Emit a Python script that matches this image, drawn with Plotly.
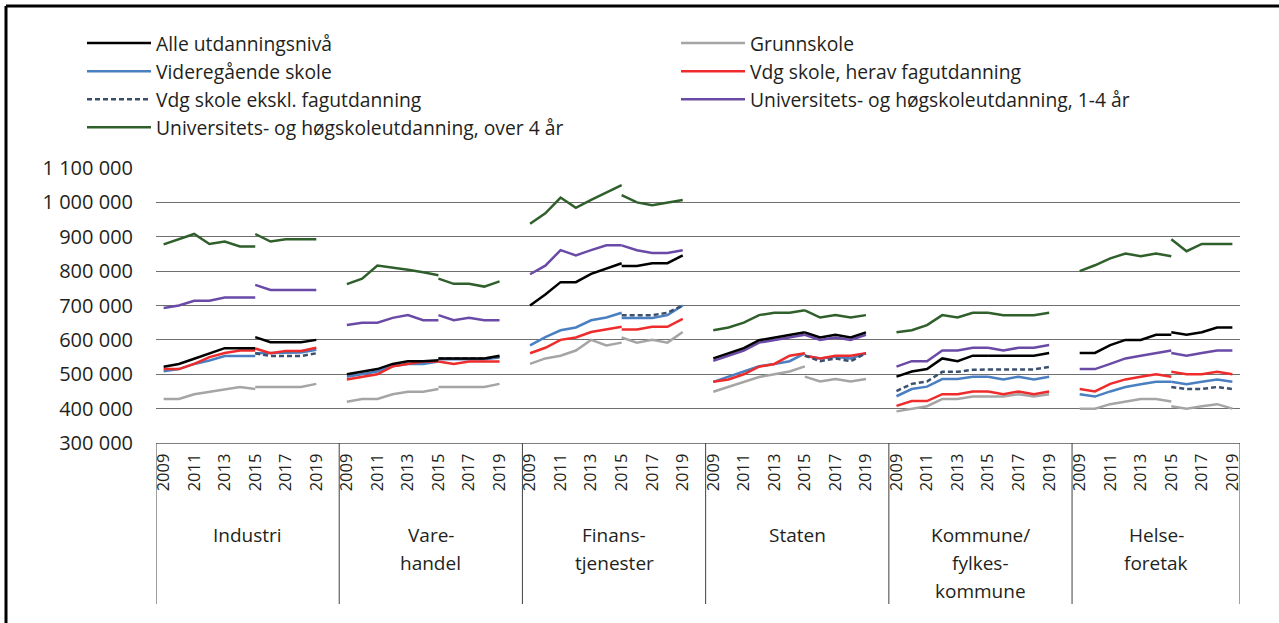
import plotly.graph_objects as go

groups = ["Industri", "Varehandel", "Finanstjenester", "Staten", "Kommune/fylkeskommune", "Helseforetak"]
group_label_lines = [["Industri"], ["Vare-", "handel"], ["Finans-", "tjenester"], ["Staten"],
                     ["Kommune/", "fylkes-", "kommune"], ["Helse-", "foretak"]]
years_a = [2009, 2010, 2011, 2012, 2013, 2014, 2015]
years_b = [2015, 2016, 2017, 2018, 2019]
tick_years = [2009, 2011, 2013, 2015, 2017, 2019]

# Series values, per group: segment a = 2009-2015, segment b = 2015-2019
alle_a = [[522000, 530000, 545000, 561000, 576000, 576000, 576000],
          [500000, 508000, 515000, 530000, 538000, 538000, 541000],
          [700000, 732000, 768000, 768000, 792000, 808000, 823000],
          [546000, 561000, 576000, 599000, 607000, 615000, 622000],
          [493000, 508000, 515000, 546000, 538000, 554000, 554000],
          [562000, 562000, 585000, 600000, 600000, 615000, 615000]]
alle_b = [[608000, 593000, 593000, 593000, 600000],
          [546000, 546000, 546000, 546000, 554000],
          [815000, 815000, 823000, 823000, 846000],
          [622000, 607000, 615000, 607000, 622000],
          [554000, 554000, 554000, 554000, 562000],
          [622000, 615000, 622000, 636000, 636000]]

grunn_a = [[428000, 428000, 442000, 449000, 457000, 463000, 457000],
           [420000, 428000, 428000, 442000, 449000, 449000, 457000],
           [530000, 546000, 554000, 569000, 600000, 584000, 592000],
           [449000, 463000, 477000, 492000, 500000, 508000, 523000],
           [392000, 400000, 407000, 428000, 428000, 435000, 435000],
           [400000, 400000, 413000, 421000, 428000, 428000, 421000]]
grunn_b = [[463000, 463000, 463000, 463000, 472000],
           [463000, 463000, 463000, 463000, 472000],
           [607000, 592000, 600000, 592000, 623000],
           [493000, 479000, 486000, 479000, 486000],
           [435000, 435000, 442000, 435000, 442000],
           [407000, 400000, 407000, 413000, 400000]]

vgs_a = [[509000, 515000, 530000, 540000, 553000, 553000, 553000],
         [493000, 500000, 508000, 523000, 530000, 530000, 537000],
         [584000, 608000, 628000, 636000, 657000, 665000, 679000],
         [478000, 493000, 508000, 523000, 530000, 538000, 561000],
         [436000, 457000, 464000, 486000, 486000, 493000, 493000],
         [442000, 435000, 450000, 463000, 471000, 478000, 478000]]
vgs_b = [[561000, 561000, 561000, 563000, 571000],
         [544000, 544000, 544000, 544000, 549000],
         [664000, 664000, 664000, 672000, 700000],
         [554000, 546000, 551000, 546000, 561000],
         [493000, 485000, 493000, 485000, 493000],
         [478000, 471000, 478000, 485000, 478000]]

fag_a = [[515000, 515000, 530000, 550000, 562000, 569000, 569000],
         [485000, 492000, 500000, 523000, 530000, 537000, 537000],
         [561000, 577000, 600000, 607000, 623000, 630000, 638000],
         [478000, 485000, 500000, 522000, 530000, 554000, 561000],
         [408000, 422000, 422000, 442000, 442000, 450000, 450000],
         [457000, 450000, 472000, 485000, 493000, 500000, 493000]]
fag_b = [[575000, 561000, 568000, 568000, 577000],
         [537000, 530000, 537000, 537000, 537000],
         [630000, 630000, 638000, 638000, 661000],
         [554000, 546000, 554000, 554000, 561000],
         [450000, 442000, 450000, 442000, 450000],
         [507000, 500000, 500000, 507000, 500000]]

# Vdg skole ekskl. fagutdanning: 2009-2015 only published for Kommune/fylkeskommune
ekskl_a = [None, None, None, None,
           [451000, 472000, 479000, 507000, 507000, 513000, 514000],
           None]
ekskl_b = [[561000, 553000, 553000, 553000, 561000],
           [546000, 546000, 546000, 546000, 551000],
           [672000, 672000, 672000, 679000, 700000],
           [554000, 538000, 546000, 538000, 561000],
           [514000, 514000, 514000, 514000, 521000],
           [463000, 457000, 457000, 463000, 457000]]

uni14_a = [[693000, 700000, 714000, 714000, 723000, 723000, 723000],
           [643000, 650000, 650000, 664000, 672000, 657000, 657000],
           [791000, 816000, 861000, 846000, 861000, 875000, 875000],
           [539000, 554000, 569000, 592000, 600000, 607000, 615000],
           [522000, 538000, 538000, 569000, 569000, 577000, 577000],
           [515000, 515000, 530000, 546000, 554000, 562000, 569000]]
uni14_b = [[760000, 745000, 745000, 745000, 745000],
           [672000, 657000, 664000, 657000, 657000],
           [875000, 861000, 853000, 853000, 861000],
           [615000, 600000, 607000, 600000, 615000],
           [577000, 569000, 577000, 577000, 585000],
           [562000, 554000, 562000, 569000, 569000]]

uni4_a = [[878000, 893000, 908000, 879000, 886000, 872000, 872000],
          [762000, 778000, 816000, 811000, 804000, 797000, 788000],
          [938000, 968000, 1014000, 984000, 1007000, 1028000, 1050000],
          [628000, 636000, 650000, 672000, 679000, 679000, 686000],
          [622000, 628000, 643000, 672000, 665000, 679000, 679000],
          [800000, 817000, 837000, 851000, 843000, 851000, 843000]]
uni4_b = [[908000, 886000, 893000, 893000, 893000],
          [778000, 763000, 763000, 755000, 770000],
          [1021000, 1000000, 992000, 1000000, 1007000],
          [686000, 665000, 672000, 665000, 672000],
          [679000, 672000, 672000, 672000, 679000],
          [893000, 858000, 879000, 879000, 879000]]

# name, segment a, segment b, colour, dash, legend, legend rank
series = [
    ("Alle utdanningsnivå", alle_a, alle_b, "#000000", "solid", "legend", 1),
    ("Videregående skole", vgs_a, vgs_b, "#4a7fc1", "solid", "legend", 2),
    ("Vdg skole ekskl. fagutdanning", ekskl_a, ekskl_b, "#3b4f6e", "5px,3px", "legend", 3),
    ("Universitets- og høgskoleutdanning, over 4 år", uni4_a, uni4_b, "#2f5f2b", "solid", "legend", 4),
    ("Grunnskole", grunn_a, grunn_b, "#a5a5a5", "solid", "legend2", 1),
    ("Vdg skole, herav fagutdanning", fag_a, fag_b, "#ee2c2c", "solid", "legend2", 2),
    ("Universitets- og høgskoleutdanning, 1-4 år", uni14_a, uni14_b, "#6a4aa6", "solid", "legend2", 3),
]

SLOTS = 12  # 11 years + one empty slot between groups


def slot(g, year):
    return g * SLOTS + (year - 2009) + 0.5


draw_order = [3, 6, 4, 1, 5, 2, 0]
fig = go.Figure()
for idx in draw_order:
    name, seg_a, seg_b, color, dash, leg, rank = series[idx]
    xs, ys = [], []
    for g in range(len(groups)):
        for yrs, seg in ((years_a, seg_a[g]), (years_b, seg_b[g])):
            if seg is None:
                continue
            xs += [slot(g, y) for y in yrs] + [None]
            ys += list(seg) + [None]
    fig.add_trace(go.Scatter(x=xs, y=ys, mode="lines", name=name, legend=leg, legendrank=rank,
                             legendgroup=name,
                             line=dict(color=color, width=2.5, dash=dash),
                             connectgaps=False, hoverinfo="skip"))

tickvals, ticktext = [], []
for g in range(len(groups)):
    for y in tick_years:
        tickvals.append(slot(g, y))
        ticktext.append(str(y))

total = SLOTS * len(groups) - 1
bounds = [g * SLOTS for g in range(len(groups))] + [total]
FONT = "Open Sans"
TXT = "#231f20"
PL, PT, PW, PH = 156, 168, 1084, 275  # plot area in px


def px_x(x):
    return (x - PL) / PW


def px_y(y):
    return (PT + PH - y) / PH


shapes = []
for b in bounds:
    shapes.append(dict(type="line", xref="x", yref="paper", x0=b, x1=b, y0=0, y1=px_y(604),
                       line=dict(color="#404040", width=1)))
# outer frame (top and left)
shapes.append(dict(type="line", xref="paper", yref="paper", x0=px_x(6), x1=px_x(1290), y0=px_y(6), y1=px_y(6),
                   line=dict(color="#000000", width=3)))
shapes.append(dict(type="line", xref="paper", yref="paper", x0=px_x(6), x1=px_x(6), y0=px_y(6), y1=px_y(640),
                   line=dict(color="#000000", width=3)))

annotations = []
for g, lines in enumerate(group_label_lines):
    for i, t in enumerate(lines):
        ypx = 535 + 28 * i
        annotations.append(dict(text=t, x=(bounds[g] + bounds[g + 1]) / 2, xref="x", y=px_y(ypx), yref="paper",
                                showarrow=False, xanchor="center", yanchor="middle",
                                font=dict(family=FONT, size=19, color=TXT)))

legend_common = dict(orientation="v", xanchor="left", yanchor="top", itemwidth=64,
                     font=dict(family=FONT, size=19.3, color=TXT), tracegroupgap=0,
                     bgcolor="rgba(0,0,0,0)", traceorder="grouped")

fig.update_layout(
    width=1279, height=623,
    margin=dict(l=PL, r=1279 - PL - PW, t=PT, b=623 - PT - PH, autoexpand=False),
    paper_bgcolor="white", plot_bgcolor="white",
    separators=", ",
    showlegend=True,
    legend=dict(x=px_x(82), y=px_y(24), **legend_common),
    legend2=dict(x=px_x(676), y=px_y(24), **legend_common),
    xaxis=dict(range=[0, total], tickvals=tickvals, ticktext=ticktext, tickangle=-90,
               showgrid=False, zeroline=False, showline=True, linecolor="#7f7f7f", linewidth=1,
               ticks="", ticklabelstandoff=3, tickfont=dict(family=FONT, size=16.5, color=TXT)),
    yaxis=dict(range=[300000, 1100000], dtick=100000, tickformat=",d",
               showgrid=True, gridcolor="#6f6f6f", gridwidth=1, zeroline=False,
               ticks="", ticklabelstandoff=22,
               tickfont=dict(family=FONT, size=20, color=TXT)),
    shapes=shapes, annotations=annotations,
)

fig.write_html("out.html", config={"displayModeBar": False},
               post_script="document.body.style.margin='0px';")
